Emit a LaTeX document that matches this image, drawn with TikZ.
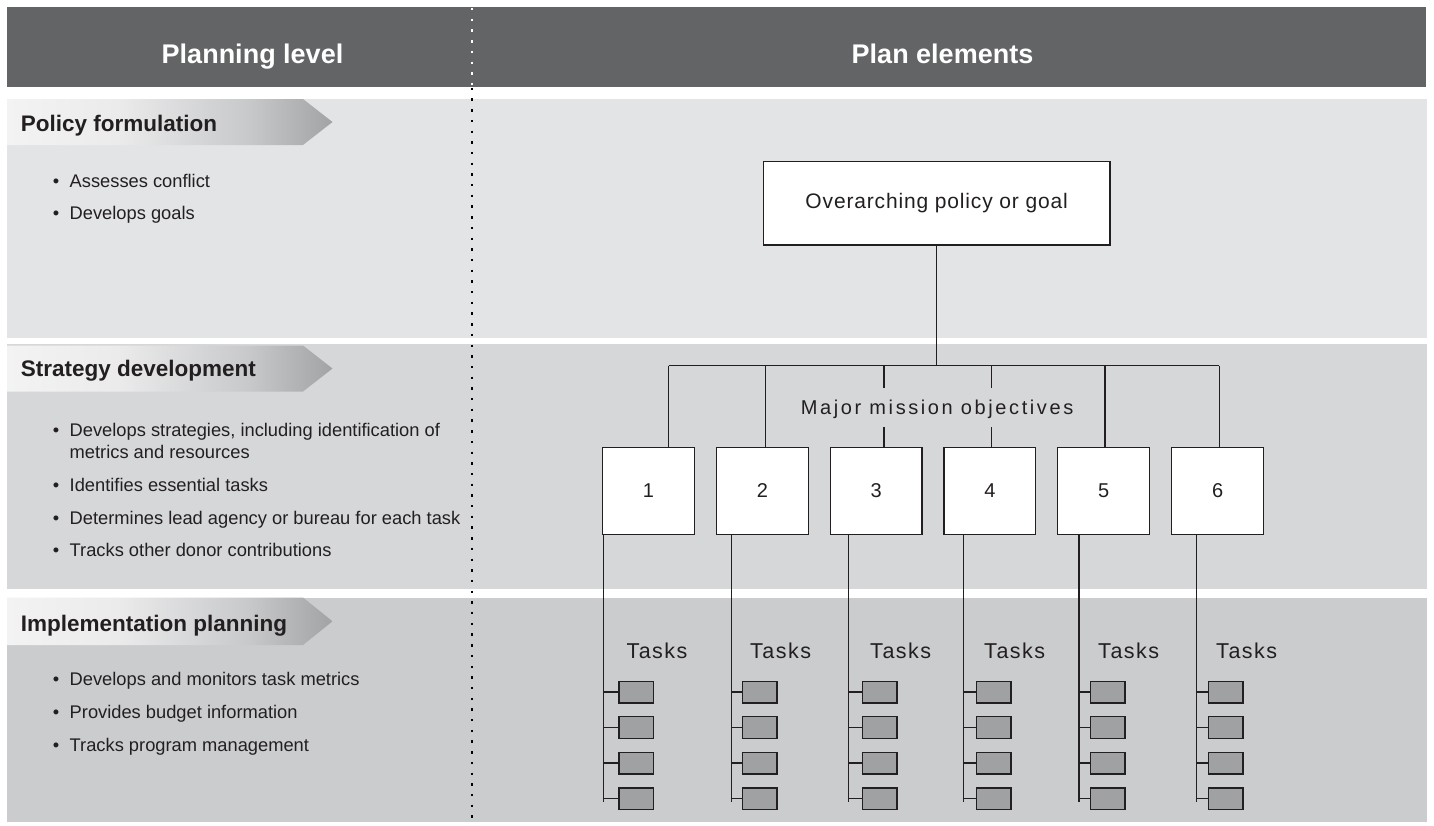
\documentclass[tikz,border=0pt]{standalone}
\usepackage{fontspec}
\setmainfont{Liberation Sans}
\usetikzlibrary{calc}
\definecolor{hdr}{HTML}{636466}
\definecolor{pA}{HTML}{E3E4E6}
\definecolor{pB}{HTML}{D6D7D9}
\definecolor{pC}{HTML}{CBCCCE}
\definecolor{lnc}{HTML}{231F20}
\definecolor{txt}{HTML}{231F20}
\definecolor{tbf}{HTML}{A0A1A3}
\definecolor{bA}{HTML}{F3F3F4}
\definecolor{bB}{HTML}{EBEBEC}
\definecolor{bC}{HTML}{C8C9CB}
\definecolor{bD}{HTML}{A2A3A5}
\pgfdeclarehorizontalshading{bannershade}{100bp}{color(0bp)=(bA); color(25bp)=(bA); color(42bp)=(bB); color(62bp)=(bC); color(75bp)=(bD); color(100bp)=(bD)}
\tikzset{
  tline/.style={line width=1.3pt, draw=lnc},
  objbox/.style={draw=lnc, line width=1.3pt, fill=white, minimum width=91.7pt, minimum height=87pt, inner sep=0pt, text=txt, font=\fontsize{20}{24}\selectfont},
  taskbox/.style={draw=lnc, line width=1.3pt, fill=tbf, minimum width=34.3pt, minimum height=21.7pt, inner sep=0pt},
  goalbox/.style={draw=lnc, line width=1.3pt, fill=white, minimum width=346.7pt, minimum height=83.3pt, inner sep=0pt, text=txt, font=\fontsize{21}{25}\selectfont\addfontfeature{LetterSpace=4}},
  bultext/.style={anchor=base west, inner sep=0pt, text=txt, font=\fontsize{18.3}{21.7}\selectfont},
  bulmark/.style={anchor=base, inner sep=0pt, text=txt, font=\fontsize{18.3}{21.7}\selectfont},
  bantext/.style={anchor=base west, inner sep=0pt, text=txt, font=\bfseries\fontsize{22.5}{26}\selectfont},
  hdrtext/.style={anchor=base, inner sep=0pt, text=white, font=\bfseries\fontsize{27}{32}\selectfont},
  tasklabel/.style={anchor=base, inner sep=0pt, text=txt, font=\fontsize{21.5}{25}\selectfont\addfontfeature{LetterSpace=7}},
  mmolabel/.style={anchor=base west, inner sep=0pt, text=txt, font=\fontsize{20}{24}\selectfont\addfontfeature{LetterSpace=13}},
  banner/.style={shading=bannershade, draw=none},
  dots/.style={line width=2.4pt, dash pattern=on 2.4pt off 8.3pt}
}
\begin{document}
\begin{tikzpicture}[x=1pt,y=-1pt]
\useasboundingbox (0,0) rectangle (1434,825);
\fill[white] (0,0) rectangle (1434,825);
% header and panels
\fill[hdr] (7,7) rectangle (1425.5,86.7);
\fill[pA] (7,99) rectangle (1426.5,337.5);
\fill[pB] (7,344) rectangle (1426.5,588.5);
\fill[pC] (7,597.5) rectangle (1426.5,822);
% banners
\shade[banner] (7,99) -- (303,99) -- (332.5,122) -- (303,145) -- (7,145) -- cycle;
\shade[banner] (7,345.5) -- (303,345.5) -- (332.5,368.5) -- (303,391.5) -- (7,391.5) -- cycle;
\shade[banner] (7,597.5) -- (303,597.5) -- (332.5,621.3) -- (303,645) -- (7,645) -- cycle;
% dotted divider
\coordinate (dv0) at (471.7,8);
\coordinate (dv1) at (471.7,86.7);
\coordinate (dv2) at (471.7,822);
\draw[dots, white] (dv0) -- (dv1);
\draw[dots, black, dash phase=-1.0pt] (dv1) -- (dv2);
% header texts
\node[hdrtext] (h1) at (252.5,63.5) {Planning level};
\node[hdrtext] (h2) at (942.5,63.5) {Plan elements};
% banner texts
\node[bantext] (b1) at (20.7,131) {Policy formulation};
\node[bantext] (b2) at (20.7,376.7) {Strategy development};
\node[bantext] (b3) at (20.7,631.7) {Implementation planning};
% bullets
\foreach \n/\yy/\tt in {a1/187.3/Assesses conflict, a2/219.3/Develops goals,
  s1/436.7/{Develops strategies, including identification of}, s3/491.7/Identifies essential tasks,
  s4/524.3/Determines lead agency or bureau for each task, s5/556.7/Tracks other donor contributions,
  i1/685/Develops and monitors task metrics, i2/718.3/Provides budget information, i3/751.7/Tracks program management}{
  \node[bulmark] (m\n) at (56,\yy) {•};
  \node[bultext] (t\n) at (69.5,\yy) {\tt};
}
\node[bultext] (ts2) at (69.5,458.3) {metrics and resources};
% goal
\node[goalbox] (goal) at (936.7,203.4) {Overarching policy or goal};
% bar
\coordinate (bl) at (668.5,365.7);
\coordinate (br) at (1219.3,365.7);
\draw[tline] (goal.south) -- (goal.south |- bl);
\draw[tline] (bl) -- (br);
\node[mmolabel] (mmo) at (800.7,414.3) {Major mission objectives};
% objective boxes and tasks
\foreach \i/\L/\D/\B/\S in {1/602.7/668.5/603.8/619.0, 2/716.7/765.7/731.7/742.7, 3/830.3/884.0/848.8/862.7,
  4/944.0/991.8/963.8/976.7, 5/1057.7/1105.0/1079.0/1090.7, 6/1171.7/1219.3/1196.5/1208.7}{
  \node[objbox] (o\i) at ({\L+45.85},490.8) {\i};
  \coordinate (d\i) at (\D,365.7);
  \coordinate (e\i) at (\B,801.7);
  \draw[tline] (o\i.south -| e\i) -- (e\i);
  \node[tasklabel] (tl\i) at ({\S+38},658.3) {Tasks};
  \foreach \j/\yy in {1/692.0,2/727.5,3/763.0,4/798.7}{
    \node[taskbox] (t\i\j) at ({\S+17.15},\yy) {};
    \draw[tline] (t\i\j.west -| e\i) -- (t\i\j.west);
  }
}
\foreach \i in {1,2,5,6}{
  \draw[tline] (d\i) -- (d\i |- o\i.north);
}
\foreach \i in {3,4}{
  \coordinate (ga\i) at ($(d\i)+(0,22.6)$);
  \coordinate (gb\i) at ($(d\i)+(0,61.6)$);
  \draw[tline] (d\i) -- (ga\i);
  \draw[tline] (gb\i) -- (gb\i |- o\i.north);
}
\end{tikzpicture}
\end{document}
